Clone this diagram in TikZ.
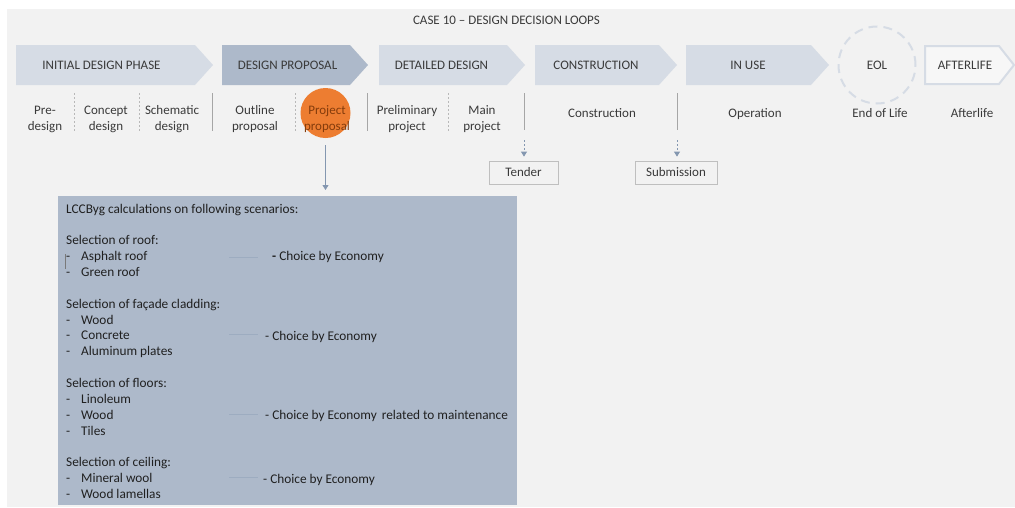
\documentclass[tikz,border=0pt]{standalone}
\usepackage{fontspec}
\setmainfont{Carlito}
\usetikzlibrary{arrows.meta}
\definecolor{bgc}{HTML}{F2F2F2}
\definecolor{chevlight}{HTML}{D6DCE5}
\definecolor{chevdark}{HTML}{ADB9CA}
\definecolor{txt}{HTML}{3A3A3A}
\definecolor{boxtxt}{HTML}{202020}
\definecolor{divc}{HTML}{A6A6A6}
\definecolor{arrc}{HTML}{8497B0}
\definecolor{orangec}{HTML}{ED7D31}
\definecolor{orangetxt}{HTML}{843C0C}
\definecolor{tbox}{HTML}{BFBFBF}
\begin{document}
\begin{tikzpicture}[x=1pt,y=-1pt,
  font=\fontsize{13}{16}\selectfont,
  lbl/.style={text=txt, inner sep=0pt},
  lbl2/.style={text=txt, inner sep=0pt, align=center},
  chevlt/.style={fill=chevlight, draw=none},
  chevdk/.style={fill=chevdark, draw=none},
  soliddiv/.style={draw=divc, line width=0.8pt},
  dashdiv/.style={draw=divc!80, line width=0.8pt, dash pattern=on 2pt off 2pt},
  arr/.style={draw=arrc, line width=0.8pt, -{Triangle[width=6pt,length=5pt]}},
  dasharr/.style={draw=arrc, line width=0.8pt, dash pattern=on 2pt off 2pt, -{Triangle[width=6pt,length=5pt]}},
  smallbox/.style={draw=tbox, line width=0.8pt, fill=bgc, text=txt, minimum height=23pt, inner sep=0pt},
  choiceline/.style={draw=arrc!80, line width=0.6pt},
  boxtext/.style={text=boxtxt, inner sep=0pt, font=\fontsize{13.3}{15.85}\selectfont}
]
\useasboundingbox (0,0) rectangle (1015,507);
\fill[white] (0,0) rectangle (1015,507);
\fill[bgc] (7,9) rectangle (1015,507);

% title
\node[lbl, anchor=base] (title) at (506.5,24) {CASE 10 -- DESIGN DECISION LOOPS};

% chevrons
\path[chevlt] (16,45) -- (195,45) -- (213,65) -- (195,85) -- (16,85) -- cycle;
\path[chevdk] (222,45) -- (350,45) -- (368,65) -- (350,85) -- (222,85) -- cycle;
\path[chevlt] (379,45) -- (507,45) -- (525,65) -- (507,85) -- (379,85) -- cycle;
\path[chevlt] (535,45) -- (659,45) -- (677,65) -- (659,85) -- (535,85) -- cycle;
\path[chevlt] (686,45) -- (811,45) -- (829,65) -- (811,85) -- (686,85) -- cycle;
\draw[chevlight, line width=2pt, fill=bgc!60!white] (925,46) -- (999,46) -- (1014,65) -- (999,84) -- (925,84) -- cycle;
\node[circle, draw=chevlight, line width=2pt, dash pattern=on 9pt off 6pt, minimum size=77pt, inner sep=0pt] (eolc) at (877,65) {};

\node[lbl, anchor=base] (p1) at (101.5,69.5) {INITIAL DESIGN PHASE};
\node[lbl, anchor=base] (p2) at (287.5,69.5) {DESIGN PROPOSAL};
\node[lbl, anchor=base] (p3) at (441.5,69.5) {DETAILED DESIGN};
\node[lbl, anchor=base] (p4) at (596,69.5) {CONSTRUCTION};
\node[lbl, anchor=base] (p5) at (748,69.5) {IN USE};
\node[lbl, anchor=base] (p6) at (877,69.5) {EOL};
\node[lbl, anchor=base] (p7) at (965,69.5) {AFTERLIFE};

% orange circle
\node[circle, fill=orangec, minimum size=50pt, inner sep=0pt] (pp) at (325.5,113) {};

% sub-phase labels
\node[lbl2] (s1) at (45,118.8) {\strut Pre-\\design\strut};
\node[lbl2] (s2) at (106,118.8) {\strut Concept\\design\strut};
\node[lbl2] (s3) at (172,118.8) {\strut Schematic\\design\strut};
\node[lbl2] (s4) at (255,118.8) {\strut Outline\\proposal\strut};
\node[lbl2, text=orangetxt] (s5) at (327,118.8) {\strut Project\\proposal\strut};
\node[lbl2] (s6) at (407,118.8) {\strut Preliminary\\project\strut};
\node[lbl2] (s7) at (482,118.8) {\strut Main\\project\strut};
\node[lbl, anchor=base] (s8) at (602,117) {Construction};
\node[lbl, anchor=base] (s9) at (755,117) {Operation};
\node[lbl, anchor=base] (s10) at (880,117) {End of Life};
\node[lbl, anchor=base] (s11) at (972,117) {Afterlife};

% dividers
\draw[dashdiv] (74,93) -- (74,131);
\draw[dashdiv] (139,93) -- (139,131);
\draw[soliddiv] (212,93) -- (212,131);
\draw[dashdiv] (295,93) -- (295,131);
\draw[soliddiv] (367,93) -- (367,131);
\draw[dashdiv] (448,93) -- (448,131);
\draw[soliddiv] (524,93) -- (524,130);
\coordinate (d1) at (524,130);
\draw[soliddiv] (677,93) -- (677,130);
\coordinate (d2) at (677,130);

% tender / submission
\node[smallbox, minimum width=69pt] (tender) at (523.5,172.5) {Tender};
\node[smallbox, minimum width=82pt] (subm) at (676,172.5) {Submission};
\draw[dasharr, shorten <=10pt, shorten >=4pt] (d1) -- (d1 |- tender.north);
\draw[dasharr, shorten <=10pt, shorten >=4pt] (d2) -- (d2 |- subm.north);

% LCC box
\node[fill=chevdark, minimum width=459pt, minimum height=309pt, inner sep=0pt, anchor=north west] (box) at (58,196) {};
\draw[arr, shorten <=7pt, shorten >=6pt] (pp.south) -- (pp.south |- box.north);

\node[boxtext, anchor=north west, align=left] (boxt) at (66,201.8) {\strut LCCByg calculations on following scenarios:\\
\mbox{}\\
Selection of roof:\\
\makebox[15pt][l]{-}Asphalt roof\\
\makebox[15pt][l]{-}Green roof\\
\mbox{}\\
Selection of fa\c{c}ade cladding:\\
\makebox[15pt][l]{-}Wood\\
\makebox[15pt][l]{-}Concrete\\
\makebox[15pt][l]{-}Aluminum plates\\
\mbox{}\\
Selection of floors:\\
\makebox[15pt][l]{-}Linoleum\\
\makebox[15pt][l]{-}Wood\\
\makebox[15pt][l]{-}Tiles\\
\mbox{}\\
Selection of ceiling:\\
\makebox[15pt][l]{-}Mineral wool\\
\makebox[15pt][l]{-}Wood lamellas};
\draw[boxtxt!60, line width=0.5pt] (65.5,254) -- (65.5,269);

\node[boxtext, anchor=base west] (c1) at (272,260.7) {\textbf{-} Choice by Economy};
\node[boxtext, anchor=base west] (c2) at (265,340.2) {- Choice by Economy};
\node[boxtext, anchor=base west] (c3) at (265,419.7) {- Choice by Economy\hspace{5pt}related to maintenance};
\node[boxtext, anchor=base west] (c4) at (263,483.3) {- Choice by Economy};
\draw[choiceline] (229,257) -- (258,257);
\draw[choiceline] (229,334) -- (258,334);
\draw[choiceline] (229,414) -- (258,414);
\draw[choiceline] (229,477) -- (258,477);
\end{tikzpicture}
\end{document}
